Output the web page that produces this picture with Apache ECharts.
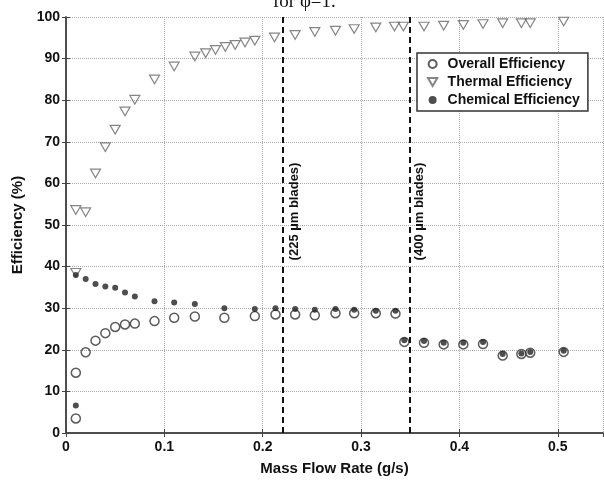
<!DOCTYPE html>
<html>
<head>
<meta charset="utf-8">
<script src="https://cdn.jsdelivr.net/npm/echarts@6/dist/echarts.min.js"></script>
<style>
  html, body { margin: 0; padding: 0; background: #fff; }
  #chart { width: 604px; height: 481px; }
</style>
</head>
<body>
<div id="chart"></div>
<script>
// mass flow rate (g/s) and efficiency (%)
const overallFlow = [0.01, 0.01, 0.02, 0.03, 0.04, 0.05, 0.06, 0.07, 0.09, 0.11, 0.131, 0.161, 0.192, 0.213, 0.233, 0.253, 0.274, 0.293, 0.315, 0.335, 0.344, 0.364, 0.384, 0.404, 0.424, 0.444, 0.463, 0.472, 0.506];
const overallEff = [3.5, 14.5, 19.4, 22.2, 24.0, 25.5, 26.1, 26.3, 26.9, 27.7, 28.0, 27.7, 28.1, 28.5, 28.5, 28.3, 28.8, 28.8, 28.8, 28.7, 21.9, 21.7, 21.3, 21.3, 21.4, 18.6, 19.0, 19.3, 19.5];

const thermalFlow = [0.01, 0.01, 0.02, 0.03, 0.04, 0.05, 0.06, 0.07, 0.09, 0.11, 0.131, 0.142, 0.152, 0.162, 0.172, 0.182, 0.192, 0.212, 0.233, 0.253, 0.274, 0.293, 0.315, 0.334, 0.343, 0.364, 0.384, 0.404, 0.424, 0.444, 0.463, 0.472, 0.506];
const thermalEff = [38.5, 53.6, 53.1, 62.4, 68.7, 72.9, 77.3, 80.1, 85.0, 88.1, 90.5, 91.3, 92.1, 92.8, 93.3, 93.9, 94.3, 95.1, 95.7, 96.4, 96.7, 97.1, 97.5, 97.7, 97.7, 97.7, 97.9, 98.1, 98.3, 98.5, 98.5, 98.5, 98.9];

const chemicalFlow = [0.01, 0.01, 0.02, 0.03, 0.04, 0.05, 0.06, 0.07, 0.09, 0.11, 0.131, 0.161, 0.192, 0.213, 0.233, 0.253, 0.274, 0.293, 0.315, 0.335, 0.344, 0.364, 0.384, 0.404, 0.424, 0.444, 0.463, 0.472, 0.506];
const chemicalEff = [6.6, 38.0, 37.0, 35.8, 35.2, 34.9, 33.8, 32.8, 31.7, 31.4, 31.0, 30.0, 29.8, 30.0, 29.8, 29.6, 29.8, 29.6, 29.4, 29.4, 22.3, 22.1, 21.7, 21.7, 21.9, 19.0, 19.1, 19.5, 19.8];

// blade size markers
const bladeFlow = [0.222, 0.349];
const bladeLabels = ["(225 µm blades)", "(400 µm blades)"];

const zip = (xs, ys) => xs.map((x, i) => [x, ys[i]]);

const font = "'Liberation Sans', Arial, sans-serif";
const axisColor = "#444";
const downTriangle = "path://M0,0L20,0L10,17.3Z";

const hiddenAxis = {
  type: "value",
  min: 0,
  axisLine: { show: true, lineStyle: { color: axisColor, width: 1.5 } },
  axisTick: { inside: true, length: 4, lineStyle: { color: axisColor } },
  axisLabel: { show: false },
  splitLine: { show: false }
};

const bladeMarks = [];
bladeFlow.forEach((x, i) => {
  bladeMarks.push({ xAxis: x, label: { show: false } });
  // invisible segment only used to carry the rotated caption
  bladeMarks.push([
    {
      coord: [x, 40.5],
      lineStyle: { color: "rgba(0,0,0,0)", width: 1, type: "solid" },
      label: {
        show: true,
        formatter: bladeLabels[i],
        position: "insideMiddleBottom",
        distance: 4,
        color: "#111",
        fontFamily: font,
        fontWeight: "bold",
        fontSize: 13
      }
    },
    { coord: [x, 66] }
  ]);
});

const option = {
  backgroundColor: "#fff",
  animation: false,
  title: {
    text: "for φ=1.",
    left: 268,
    top: -12,
    textStyle: {
      fontFamily: "'Liberation Serif', 'Times New Roman', serif",
      fontWeight: "normal",
      fontSize: 19,
      color: "#111"
    }
  },
  legend: {
    orient: "vertical",
    left: 417,
    top: 53,
    padding: [4, 8, 4, 10],
    itemGap: 4,
    itemWidth: 20,
    itemHeight: 8,
    symbolKeepAspect: true,
    borderColor: "#333",
    borderWidth: 1.5,
    borderRadius: 0,
    backgroundColor: "#fff",
    textStyle: { fontFamily: font, fontWeight: "bold", fontSize: 14, color: "#111" },
    data: [
      { name: "Overall Efficiency", icon: "circle" },
      { name: "Thermal Efficiency", icon: downTriangle },
      { name: "Chemical Efficiency", icon: "circle", itemStyle: { color: "#222" } }
    ]
  },
  grid: { left: 66, top: 17, right: 1, bottom: 44 },
  xAxis: [
    {
      type: "value",
      min: 0,
      max: 0.546,
      interval: 0.1,
      name: "Mass Flow Rate (g/s)",
      nameLocation: "middle",
      nameGap: 28,
      nameTextStyle: { fontFamily: font, fontWeight: "bold", fontSize: 15, color: "#111" },
      axisLine: { lineStyle: { color: axisColor, width: 1.5 } },
      axisTick: { inside: true, length: 4, lineStyle: { color: axisColor } },
      axisLabel: {
        showMaxLabel: false,
        margin: 7,
        color: "#111",
        fontFamily: font,
        fontWeight: "bold",
        fontSize: 14
      },
      splitLine: { show: true, lineStyle: { color: "#aaa", type: "dotted" } }
    },
    Object.assign({}, hiddenAxis, { position: "top", max: 0.546, interval: 0.1 })
  ],
  yAxis: [
    {
      type: "value",
      min: 0,
      max: 100,
      interval: 10,
      name: "Efficiency (%)",
      nameLocation: "middle",
      nameGap: 38,
      nameTextStyle: { fontFamily: font, fontWeight: "bold", fontSize: 15, color: "#111" },
      axisLine: { show: true, lineStyle: { color: axisColor, width: 1.5 } },
      axisTick: { inside: true, length: 4, lineStyle: { color: axisColor } },
      axisLabel: { margin: 6, color: "#111", fontFamily: font, fontWeight: "bold", fontSize: 14 },
      splitLine: { show: true, lineStyle: { color: "#aaa", type: "dotted" } }
    },
    Object.assign({}, hiddenAxis, { position: "right", max: 100, interval: 10 })
  ],
  series: [
    {
      name: "Overall Efficiency",
      type: "scatter",
      symbol: "circle",
      symbolSize: 9,
      itemStyle: { color: "rgba(0,0,0,0)", borderColor: "#333", borderWidth: 1.5 },
      data: zip(overallFlow, overallEff),
      markLine: {
        silent: true,
        symbol: "none",
        lineStyle: { color: "#111", type: [6, 4], width: 2 },
        data: bladeMarks
      }
    },
    {
      name: "Thermal Efficiency",
      type: "scatter",
      symbol: downTriangle,
      symbolKeepAspect: true,
      symbolSize: 10,
      itemStyle: { color: "rgba(0,0,0,0)", borderColor: "#666", borderWidth: 1.2 },
      data: zip(thermalFlow, thermalEff)
    },
    {
      name: "Chemical Efficiency",
      type: "scatter",
      symbol: "circle",
      symbolSize: 6,
      itemStyle: { color: "#222" },
      data: zip(chemicalFlow, chemicalEff)
    }
  ]
};

const chart = echarts.init(document.getElementById("chart"));
chart.setOption(option);
</script>
</body>
</html>
